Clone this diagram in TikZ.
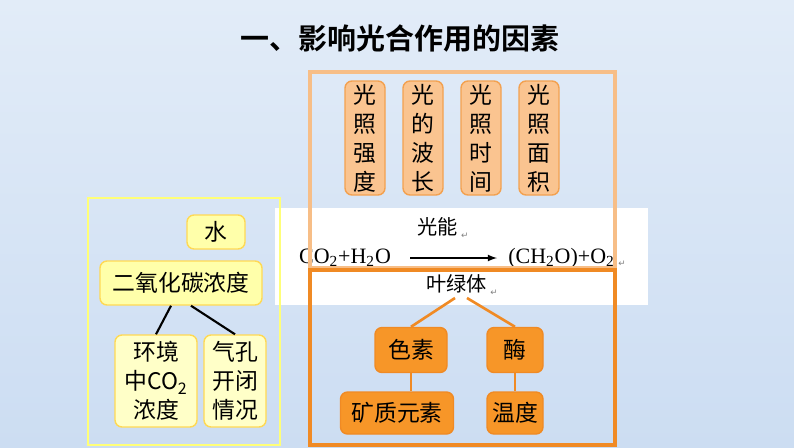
\documentclass[tikz,border=0pt]{standalone}
\usepackage{fontspec}
\setmainfont{Liberation Serif}
\newfontfamily\cjk{Noto Sans CJK SC}
\newfontfamily\cjkb{Noto Sans CJK SC Bold}
\newfontfamily\sym{DejaVu Sans}
\definecolor{bgtop}{RGB}{226,236,248}
\definecolor{bgbot}{RGB}{204,221,242}
\definecolor{lorange}{RGB}{247,190,135}
\definecolor{lfill}{RGB}{250,196,144}
\definecolor{dorange}{RGB}{240,138,36}
\definecolor{dfill}{RGB}{247,150,40}
\definecolor{yline}{RGB}{255,255,120}
\definecolor{yfill}{RGB}{255,255,170}
\definecolor{ybox}{RGB}{255,255,200}
\tikzset{
  lightbox/.style={draw=dorange!80,fill=lfill,rounded corners=4pt,line width=0.8pt,
    align=center,font=\cjk\fontsize{13}{16.5}\selectfont,inner sep=0pt},
  darkbox/.style={draw=dorange,fill=dfill,rounded corners=4pt,line width=0.8pt,
    font=\cjk\fontsize{13}{16}\selectfont,inner sep=0pt},
  yellowbox/.style={draw=yline!70!orange,fill=yfill,rounded corners=4pt,line width=0.8pt,
    align=center,font=\cjk\fontsize{13}{16.5}\selectfont,inner sep=0pt}
}
\newcommand\retmark{\,\raisebox{-2pt}{\sym\fontsize{5}{5}\selectfont\color{gray}↵}}
\begin{document}
\begin{tikzpicture}[x=0.02cm,y=-0.02cm]
\shade[top color=bgtop,bottom color=bgbot] (0,0) rectangle (794,447);
\useasboundingbox (0,0) rectangle (794,447);
\node (title) at (400,38) {\cjkb\fontsize{16.5}{20}\selectfont 一、影响光合作用的因素};
% white panel with the equation
\fill[white] (275,208) rectangle (648,305);
\node (co2) at (345,258) {\fontsize{12.5}{15}\selectfont CO\textsubscript{2}+H\textsubscript{2}O};
\node (prod) at (567,258) {\fontsize{12.5}{15}\selectfont (CH\textsubscript{2}O)+O\textsubscript{2}\retmark};
\draw[-latex,line width=0.8pt] (410,258) -- (497,258);
\node (light) at (443,228) {\cjk\fontsize{11.5}{14}\selectfont 光能\retmark};
\node (chloro) at (462,285) {\cjk\fontsize{11.5}{14}\selectfont 叶绿体\retmark};
% group frames
\draw[lorange,line width=1.8pt] (310,72) rectangle (615,268);
\draw[dorange,line width=1.8pt] (310,270) rectangle (615,445);
\draw[yline,line width=1.5pt] (88,198) rectangle (280,445);
% light factors
\foreach \x/\t [count=\i] in {365/光\\照\\强\\度, 423/光\\的\\波\\长, 481/光\\照\\时\\间, 539/光\\照\\面\\积}
  \node[lightbox,minimum width=40*0.02cm,minimum height=114*0.02cm] (l\i) at (\x,138) {\t};
% water and CO2
\node[yellowbox,minimum width=58*0.02cm,minimum height=34*0.02cm] (water) at (216,232) {水};
\node[yellowbox,minimum width=162*0.02cm,minimum height=44*0.02cm] (cdens) at (181,283) {二氧化碳浓度};
\node[yellowbox,fill=ybox,minimum width=82*0.02cm,minimum height=92*0.02cm] (env) at (156,381) {环境\\中CO\textsubscript{2}\\浓度};
\node[yellowbox,fill=ybox,minimum width=62*0.02cm,minimum height=92*0.02cm] (stoma) at (235,381) {气孔\\开闭\\情况};
\draw[line width=1.2pt] (cdens.south) ++(-10,0) -- (env.north);
\draw[line width=1.2pt] (cdens.south) ++(10,0) -- (stoma.north);
% chloroplast factors
\node[darkbox,minimum width=72*0.02cm,minimum height=45*0.02cm] (pig) at (411,350) {色素};
\node[darkbox,minimum width=56*0.02cm,minimum height=45*0.02cm] (enz) at (515,350) {酶};
\node[darkbox,minimum width=113*0.02cm,minimum height=42*0.02cm] (min) at (397,413) {矿质元素};
\node[darkbox,minimum width=56*0.02cm,minimum height=42*0.02cm] (temp) at (515,413) {温度};
\draw[dorange,line width=1.5pt] (455,298) -- (pig.north);
\draw[dorange,line width=1.5pt] (467,298) -- (enz.north);
\draw[dorange,line width=1.5pt] (pig.south) -- (pig.south |- min.north);
\draw[dorange,line width=1.5pt] (enz) -- (temp);
\end{tikzpicture}
\end{document}
